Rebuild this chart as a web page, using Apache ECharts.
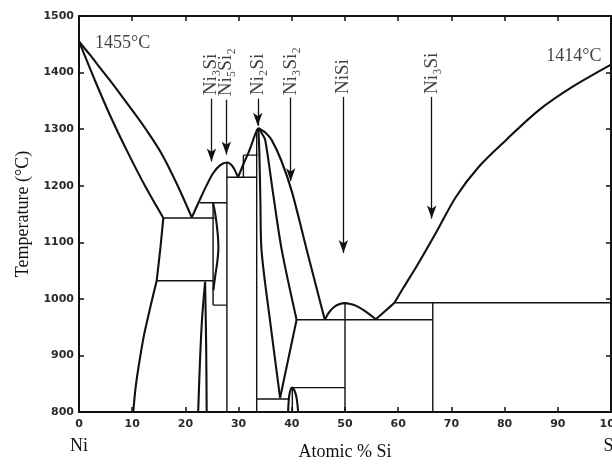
<!DOCTYPE html>
<html><head><meta charset="utf-8">
<script src="https://cdn.jsdelivr.net/npm/echarts@6/dist/echarts.min.js"></script>
<style>html,body{margin:0;padding:0;background:#fff}#c{width:612px;height:466px}</style>
</head><body><div id="c"></div>
<script>
// ---- axis ticks ----
const xTicks = {min: 0, max: 100, interval: 10};
const yTicks = {min: 800, max: 1500, interval: 100};
const endLabels = {0: 'Ni', 100: 'Si'};

// ---- phase boundary curves [at% Si, T °C] ----
const liquidusNi = [[0,1455],[2,1432],[4,1408],[6,1384],[8,1359],[10.2,1331],[12.7,1298],[15.5,1257],[18.4,1203],[21.2,1144]];
const solidusNi = [[0,1455],[3,1386],[6,1321],[9,1262],[12.5,1198],[15.85,1143]];
const solvusNiHigh = [[15.85,1143],[15.3,1090],[14.6,1032]];
const solvusNiLow = [[14.6,1032],[13.4,985],[12.2,935],[11.2,880],[10.6,840],[10.2,800]];
const beta1Left = [[22.4,800],[22.7,880],[23.1,960],[23.7,1030]];
const beta1Right = [[23.7,1030],[23.9,920],[24.0,800]];
const lensRight = [[25.2,1170],[25.7,1145],[26.1,1112],[26.2,1090],[26.0,1066],[25.6,1040],[25.25,1015]];
const liquidusNi5Si2 = [[21.2,1144],[22.7,1175],[24,1201],[25.2,1222],[26.5,1236],[27.8,1241],[28.8,1235],[29.9,1215]];
const liquidusNi2SiLeft = [[29.9,1215],[30.9,1238],[31.8,1257],[32.6,1277],[33.2,1293],[33.7,1302]];
const thetaLeft = [[33.7,1302],[33.9,1260],[34.1,1170],[34.3,1087],[36,955],[37.8,825]];
const thetaRightHigh = [[33.7,1302],[34.4,1292],[35,1281],[36.5,1185],[38.1,1087],[40.9,963]];
const thetaRightLow = [[40.9,963],[37.8,825]];
const liquidusNi2SiRight = [[33.7,1302],[35,1294],[36.2,1281],[38,1245],[40,1190],[42.8,1087],[44.5,1025],[46.2,963]];
const nisiDome = [[46.2,963],[47,976],[48,986],[49,991],[50,992.5],[51,991],[52,988],[53.5,980],[55.8,964]];
const ni3si2Dome = [[39.3,800],[39.5,828],[39.8,840],[40.1,843],[40.5,838],[40.9,825],[41.2,800]];
const liquidusSiLow = [[55.8,964],[57.5,978],[59.3,993]];
const liquidusSiHigh = [[59.3,993],[61,1020],[63.3,1055],[67.1,1117],[70.9,1181],[75.2,1234],[80.3,1281],[86.5,1334],[92.8,1375],[100,1414]];

// ---- invariant / compound lines ----
const line1170 = [[22.7,1170],[27.8,1170]];
const line1143 = [[15.85,1143],[25.5,1143]];
const line1032 = [[14.6,1032],[25.2,1032]];
const lensLeft = [[25.2,1170],[25.2,989]];
const line989 = [[25.2,989],[27.8,989]];
const ni5si2Line = [[27.8,1241],[27.8,800]];
const line1215 = [[27.8,1215],[33.4,1215]];
const line1254 = [[30.9,1254],[33.6,1254]];
const vert309 = [[30.9,1254],[30.9,1215]];
const ni2siLine = [[33.4,1300],[33.4,800]];
const line823 = [[33.4,823],[39.3,823]];
const ni3si2Inner = [[40.1,843],[40.1,800]];
const line843 = [[40.1,843],[50,843]];
const line963 = [[40.9,963],[66.5,963]];
const nisiLine = [[50,992.5],[50,800]];
const line993 = [[59.3,993],[100,993]];
const nisi2Line = [[66.5,993],[66.5,800]];

// ---- compound labels and arrows ----
const compoundNames = ['Ni\u2083Si','Ni\u2085Si\u2082','Ni\u2082Si','Ni\u2083Si\u2082','NiSi','Ni\u2083Si'];
const compoundX = [24.9, 27.7, 33.6, 39.8, 49.7, 66.3];
const labelStartT = [1360, 1358, 1360, 1360, 1362, 1362];
const arrowTopT = [1354, 1352, 1354, 1356, 1357, 1357];
const arrowTipT = [1243, 1255, 1306, 1208, 1081, 1142];

// ---- melting point notes ----
const meltNotes = [['1455\u00b0C', 3.0, 1451, 'left'], ['1414\u00b0C', 98.2, 1429, 'right']];

const curves = [liquidusNi, solidusNi, solvusNiHigh, solvusNiLow, beta1Left, beta1Right, lensRight,
  liquidusNi5Si2, liquidusNi2SiLeft, thetaLeft, thetaRightHigh, thetaRightLow, liquidusNi2SiRight,
  nisiDome, ni3si2Dome, liquidusSiLow, liquidusSiHigh];
const ties = [line1170, line1143, line1032, lensLeft, line989, ni5si2Line, line1215, line1254, vert309,
  ni2siLine, line823, ni3si2Inner, line843, line963, nisiLine, line993, nisi2Line];

const ink = '#111111';
const serif = "'Liberation Serif','DejaVu Serif',serif";
const series = [];
curves.forEach(d => series.push({type:'line', data:d, showSymbol:false, symbol:'none', silent:true,
  smooth:0.3, lineStyle:{color:ink, width:2.1}, z:3}));
ties.forEach(d => series.push({type:'line', data:d, showSymbol:false, symbol:'none', silent:true,
  lineStyle:{color:ink, width:1.4}, z:2}));

series.push({
  type:'scatter', symbolSize:0, silent:true, z:5,
  data: compoundNames.map((n,i) => [compoundX[i], labelStartT[i], n]),
  label:{show:true, position:'inside', rotate:90, align:'left', verticalAlign:'middle',
    formatter: p => p.value[2], fontFamily:serif, fontSize:19, color:ink},
  markLine:{silent:true, symbol:['none','arrow'], symbolSize:[7,13], animation:false,
    label:{show:false}, lineStyle:{color:ink, width:1.3, type:'solid'},
    data: compoundX.map((x,i) => [{coord:[x, arrowTopT[i]]},{coord:[x, arrowTipT[i]]}])}
});
series.push({
  type:'scatter', symbolSize:0, silent:true, z:5,
  data: meltNotes.map(m => ({value:[m[1], m[2]], label:{formatter:m[0], align:m[3]}})),
  label:{show:true, position:'inside', verticalAlign:'middle', fontFamily:serif, fontSize:18, color:ink}
});

const axisLine = {show:true, onZero:false, lineStyle:{color:ink, width:2}};
const tick = {show:true, inside:true, length:5, lineStyle:{color:ink, width:1.5}};
const tickFont = {fontFamily:"'DejaVu Sans',sans-serif", fontWeight:'bold', fontSize:11, color:'#2a2a2a',
  formatter: v => String(v)};

const chart = echarts.init(document.getElementById('c'), null, {renderer:'canvas'});
chart.setOption({
  animation:false,
  backgroundColor:'#fff',
  grid:{left:79, right:1, top:16, bottom:54, containLabel:false, outerBoundsMode:'none'},
  xAxis:[
    Object.assign({type:'value', position:'bottom', axisLine, axisTick:tick, splitLine:{show:false},
      axisLabel:Object.assign({margin:7}, tickFont),
      name:'Atomic % Si', nameLocation:'middle', nameGap:31,
      nameTextStyle:{fontFamily:serif, fontSize:18, color:ink}}, xTicks),
    Object.assign({type:'value', position:'top', axisLine, axisTick:tick, splitLine:{show:false},
      axisLabel:{show:false}}, xTicks),
    Object.assign({type:'value', position:'bottom', axisLine:{show:false}, axisTick:{show:false},
      splitLine:{show:false},
      axisLabel:{margin:25, fontFamily:serif, fontSize:18, color:ink,
        formatter: v => endLabels[v] || ''}}, xTicks)
  ],
  yAxis:[
    Object.assign({type:'value', position:'left', axisLine, axisTick:tick, splitLine:{show:false},
      axisLabel:Object.assign({margin:5}, tickFont),
      name:'Temperature (\u00b0C)', nameLocation:'middle', nameGap:45, nameRotate:90,
      nameTextStyle:{fontFamily:serif, fontSize:18, color:ink}}, yTicks),
    Object.assign({type:'value', position:'right', axisLine, axisTick:tick, splitLine:{show:false},
      axisLabel:{show:false}}, yTicks)
  ],
  series
});
</script></body></html>
